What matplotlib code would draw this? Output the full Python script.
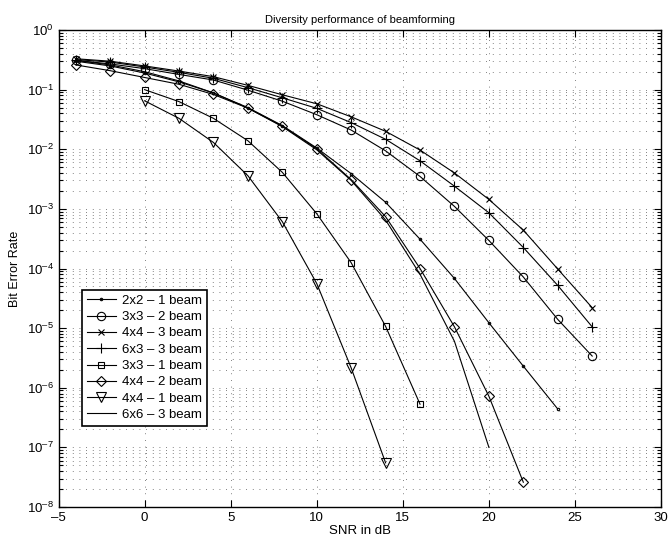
from matplotlib import pyplot as plt
import numpy as np

plt.rcParams['font.family'] = ['Liberation Sans', 'DejaVu Sans']
plt.rcParams['mathtext.fontset'] = 'custom'
plt.rcParams['mathtext.rm'] = 'Liberation Sans'
plt.rcParams['mathtext.it'] = 'Liberation Sans:italic'
plt.rcParams['axes.unicode_minus'] = False

# SNR points (dB)
snr = [-4, -2, 0, 2, 4, 6, 8, 10, 12, 14, 16, 18, 20, 22, 24, 26]

# BER curves
ber_2x2_1 = [0.30, 0.25, 0.19, 0.135, 0.088, 0.05, 0.025, 0.0105, 0.0039,
             1.29e-3, 3.1e-4, 6.8e-5, 1.23e-5, 2.3e-6, 4.4e-7]
ber_3x3_2 = [0.31, 0.27, 0.225, 0.18, 0.145, 0.098, 0.064, 0.038, 0.021,
             9.4e-3, 3.5e-3, 1.1e-3, 2.95e-4, 7.2e-5, 1.4e-5, 3.4e-6]
ber_4x4_3 = [0.33, 0.30, 0.25, 0.205, 0.165, 0.118, 0.082, 0.058, 0.035,
             0.020, 9.7e-3, 4.0e-3, 1.44e-3, 4.4e-4, 9.8e-5, 2.2e-5]
ber_6x3_3 = [0.32, 0.29, 0.24, 0.195, 0.155, 0.108, 0.073, 0.0486, 0.028,
             0.0147, 6.4e-3, 2.4e-3, 8.6e-4, 2.25e-4, 5.2e-5, 1.05e-5]
ber_3x3_1 = [0.10, 0.063, 0.033, 0.0139, 4.1e-3, 8.3e-4, 1.25e-4, 1.07e-5, 5.3e-7]
ber_4x4_2 = [0.26, 0.208, 0.16, 0.123, 0.083, 0.049, 0.0245, 0.0102, 3.1e-3,
             7.4e-4, 1.0e-4, 1.05e-5, 7.2e-7, 2.6e-8]
ber_4x4_1 = [0.065, 0.033, 0.013, 3.6e-3, 6.1e-4, 5.6e-5, 2.15e-6, 5.5e-8]
ber_6x6_3 = [0.31, 0.26, 0.20, 0.14, 0.088, 0.049, 0.024, 0.0098, 3.0e-3,
             6.5e-4, 8.0e-5, 6.0e-6, 1.0e-7]

series = [
    ('2x2 \u2013 1 beam', snr[:15], ber_2x2_1, dict(marker='.', markersize=3.5)),
    ('3x3 \u2013 2 beam', snr, ber_3x3_2, dict(marker='o', markersize=6)),
    ('4x4 \u2013 3 beam', snr, ber_4x4_3, dict(marker='x', markersize=5)),
    ('6x3 \u2013 3 beam', snr, ber_6x3_3, dict(marker='+', markersize=7)),
    ('3x3 \u2013 1 beam', snr[2:11], ber_3x3_1, dict(marker='s', markersize=5)),
    ('4x4 \u2013 2 beam', snr[:14], ber_4x4_2, dict(marker='D', markersize=5)),
    ('4x4 \u2013 1 beam', snr[2:10], ber_4x4_1, dict(marker='v', markersize=7)),
    ('6x6 \u2013 3 beam', snr[:13], ber_6x6_3, dict(marker='None')),
]

fig = plt.figure(figsize=(6.68, 5.42), dpi=100)
ax = fig.add_axes([0.0876, 0.0646, 0.902, 0.880])

for label, x, y, style in series:
    ax.semilogy(x, y, color='k', linewidth=0.8, markerfacecolor='none',
                markeredgecolor='k', markeredgewidth=0.8, label=label, **style)

ax.set_xlim(-5, 30)
ax.set_ylim(1e-8, 1)
ax.set_xticks([-5, 0, 5, 10, 15, 20, 25, 30])
ax.set_xticklabels(['\u20135', '0', '5', '10', '15', '20', '25', '30'])
ax.set_yticks([10.0 ** k for k in range(-8, 1)])
ax.set_yticks([m * 10.0 ** k for k in range(-8, 0) for m in range(2, 10)], minor=True)
ax.set_yticklabels(['$10^{%d}$' % k if k == 0 else '$10^{\u2013%d}$' % -k
                    for k in range(-8, 1)])

# MATLAB style grid: dotted, major x, major+minor y
grid_style = dict(color='0.35', linewidth=0.6, linestyle=(0, (1, 7)))
ax.grid(True, which='major', axis='both', **grid_style)
ax.grid(True, which='minor', axis='y', **grid_style)

ax.tick_params(which='both', direction='in', top=True, right=True,
               labelsize=9.5, width=0.8)
ax.tick_params(which='major', length=5)
ax.tick_params(which='minor', length=3)
for s in ax.spines.values():
    s.set_linewidth(1.0)

ax.set_xlabel('SNR in dB', fontsize=9.5, labelpad=1)
ax.set_ylabel('Bit Error Rate', fontsize=9, labelpad=4)
ax.set_title('Diversity performance of beamforming', fontsize=8, pad=5)

leg = ax.legend(loc='upper left', bbox_to_anchor=(0.039, 0.455), fontsize=9.5,
                fancybox=False, framealpha=1, edgecolor='k', handlelength=2.2,
                borderaxespad=0, labelspacing=0.31, borderpad=0.35,
                handletextpad=0.5)
leg.get_frame().set_linewidth(1.2)

plt.savefig('out.png', dpi=100)
plt.close()
